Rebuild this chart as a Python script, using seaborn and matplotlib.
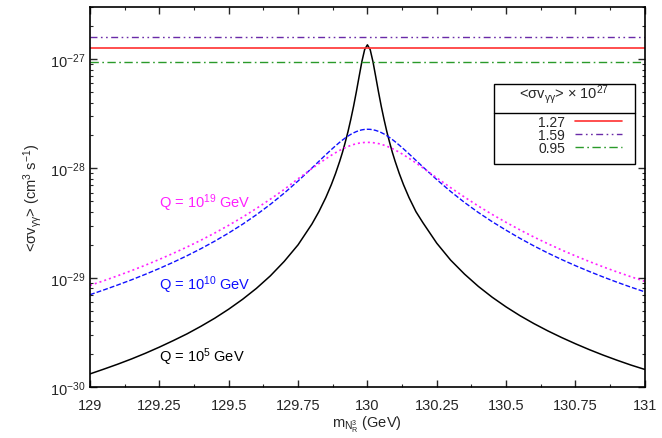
import numpy as np
import pandas as pd
import matplotlib
matplotlib.use("Agg")
import matplotlib.pyplot as plt
import matplotlib.ticker as mticker
from matplotlib.lines import Line2D
from matplotlib.patches import Rectangle
import seaborn as sns

# masse (GeV)
mass = [129.0, 129.05, 129.1, 129.15, 129.2, 129.25, 129.3, 129.35, 129.4, 129.45,
        129.5, 129.55, 129.6, 129.65, 129.7, 129.75, 129.8, 129.825, 129.85, 129.87,
        129.885, 129.9, 129.91, 129.92, 129.93, 129.94, 129.95, 129.96, 129.97, 129.98,
        129.99, 130.0,
        130.01, 130.02, 130.03, 130.04, 130.05, 130.06, 130.07, 130.08, 130.09, 130.1,
        130.115, 130.13, 130.15, 130.175, 130.2, 130.25, 130.3, 130.35, 130.4, 130.45,
        130.5, 130.55, 130.6, 130.65, 130.7, 130.75, 130.8, 130.85, 130.9, 130.95, 131.0]

# Q = 10^5 GeV
sigma_q5 = [1.32e-30, 1.46e-30, 1.62e-30, 1.81e-30, 2.04e-30, 2.32e-30, 2.66e-30, 3.07e-30, 3.60e-30, 4.27e-30,
            5.16e-30, 6.35e-30, 8.0e-30, 1.04e-29, 1.41e-29, 2.0e-29, 3.1e-29, 4.02e-29, 5.41e-29, 7.11e-29,
            8.96e-29, 1.16e-28, 1.40e-28, 1.73e-28, 2.17e-28, 2.80e-28, 3.69e-28, 5.0e-28, 6.9e-28, 9.47e-28,
            1.22e-27, 1.35e-27,
            1.22e-27, 9.47e-28, 6.9e-28, 5.0e-28, 3.69e-28, 2.80e-28, 2.17e-28, 1.73e-28, 1.40e-28, 1.16e-28,
            8.96e-29, 7.11e-29, 5.41e-29, 4.02e-29, 3.19e-29, 2.07e-29, 1.45e-29, 1.08e-29, 8.33e-30, 6.63e-30,
            5.41e-30, 4.50e-30, 3.81e-30, 3.27e-30, 2.84e-30, 2.49e-30, 2.20e-30, 1.96e-30, 1.76e-30, 1.59e-30, 1.45e-30]

# Q = 10^10 GeV
sigma_q10 = [7.0e-30, 7.74e-30, 8.59e-30, 9.58e-30, 1.076e-29, 1.216e-29, 1.385e-29, 1.591e-29, 1.845e-29, 2.163e-29,
             2.566e-29, 3.086e-29, 3.77e-29, 4.687e-29, 5.939e-29, 7.673e-29, 1.008e-28, 1.16e-28, 1.334e-28, 1.487e-28,
             1.609e-28, 1.733e-28, 1.816e-28, 1.897e-28, 1.975e-28, 2.048e-28, 2.113e-28, 2.171e-28, 2.217e-28, 2.252e-28,
             2.273e-28, 2.28e-28,
             2.276e-28, 2.257e-28, 2.225e-28, 2.181e-28, 2.126e-28, 2.063e-28, 1.992e-28, 1.915e-28, 1.836e-28, 1.754e-28,
             1.63e-28, 1.51e-28, 1.358e-28, 1.184e-28, 1.032e-28, 7.903e-29, 6.153e-29, 4.884e-29, 3.951e-29, 3.253e-29,
             2.72e-29, 2.293e-29, 1.956e-29, 1.686e-29, 1.468e-29, 1.289e-29, 1.141e-29, 1.016e-29, 9.1e-30, 8.2e-30, 7.43e-30]

# Q = 10^19 GeV
sigma_q19 = [8.51e-30, 9.4e-30, 1.043e-29, 1.163e-29, 1.304e-29, 1.472e-29, 1.672e-29, 1.912e-29, 2.206e-29, 2.568e-29,
             3.018e-29, 3.584e-29, 4.305e-29, 5.229e-29, 6.42e-29, 8.043e-29, 9.962e-29, 1.106e-28, 1.223e-28, 1.319e-28,
             1.391e-28, 1.461e-28, 1.505e-28, 1.548e-28, 1.587e-28, 1.622e-28, 1.654e-28, 1.681e-28, 1.702e-28, 1.717e-28,
             1.727e-28, 1.73e-28,
             1.728e-28, 1.719e-28, 1.706e-28, 1.686e-28, 1.661e-28, 1.63e-28, 1.596e-28, 1.558e-28, 1.516e-28, 1.473e-28,
             1.404e-28, 1.333e-28, 1.238e-28, 1.122e-28, 1.012e-28, 8.204e-29, 6.666e-29, 5.465e-29, 4.524e-29, 3.79e-29,
             3.21e-29, 2.738e-29, 2.358e-29, 2.049e-29, 1.795e-29, 1.584e-29, 1.407e-29, 1.257e-29, 1.13e-29, 1.021e-29, 9.27e-30]

# valori di riferimento <sigma v> x 10^27
ref_values = [1.27, 1.59, 0.95]
ref_labels = ["1.27", "1.59", "0.95"]

df = pd.DataFrame({"m": mass, "q5": sigma_q5, "q10": sigma_q10, "q19": sigma_q19})

sns.set_style("ticks")
plt.rcParams["font.family"] = ["Liberation Sans", "DejaVu Sans"]
plt.rcParams["mathtext.fontset"] = "custom"
plt.rcParams["mathtext.rm"] = "Liberation Sans"
plt.rcParams["mathtext.it"] = "Liberation Sans"
plt.rcParams["mathtext.bf"] = "Liberation Sans:bold"

fig = plt.figure(figsize=(6.62, 4.39), dpi=100)
ax = fig.add_axes([0.136, 0.116, 0.838, 0.866])
ax.set_yscale("log")

sns.lineplot(data=df, x="m", y="q5", ax=ax, color="black", lw=1.1, estimator=None, sort=False)
sns.lineplot(data=df, x="m", y="q10", ax=ax, color="#1010ff", lw=1.0, estimator=None, sort=False
             ).lines[-1].set_dashes([3.5, 1.5])
sns.lineplot(data=df, x="m", y="q19", ax=ax, color="#ff20ff", lw=1.2, estimator=None, sort=False
             ).lines[-1].set_dashes([1.2, 1.8])

ref_colors = ["#ff3030", "#6a2aa8", "#2a9a2a"]
ref_dashes = [None, [5, 2.5, 1.2, 2.5, 1.2, 2.5], [6, 2.5, 1.2, 2.5]]
handles = []
for v, lab, c, d in zip(ref_values, ref_labels, ref_colors, ref_dashes):
    ln = ax.axhline(v * 1e-27, color=c, lw=1.2 if d is None else 1.0, label=lab)
    if d is not None:
        ln.set_dashes(d)
    handles.append(ln)

ax.set_xlim(129, 131)
ax.set_ylim(1e-30, 3e-27)
ax.xaxis.set_major_locator(mticker.MultipleLocator(0.25))
ax.xaxis.set_minor_locator(mticker.MultipleLocator(0.125))
ax.xaxis.set_major_formatter(mticker.FuncFormatter(lambda x, p: f"{x:g}"))
ax.yaxis.set_major_locator(mticker.FixedLocator([1e-30, 1e-29, 1e-28, 1e-27]))
ax.yaxis.set_minor_locator(mticker.LogLocator(base=10, subs=np.arange(2, 10), numticks=20))
ax.yaxis.set_minor_formatter(mticker.NullFormatter())
ax.yaxis.set_major_formatter(mticker.FuncFormatter(
    lambda y, p: r"10$^{\mathregular{%d}}$" % int(round(np.log10(y)))))
ax.tick_params(which="both", direction="in", top=True, right=True, labelsize=10.5)
ax.tick_params(which="major", length=5, width=1)
ax.tick_params(which="minor", length=2.5, width=0.8)
ax.tick_params(axis="x", pad=8)
for s in ax.spines.values():
    s.set_linewidth(1.2)
    s.set_color("black")

ax.set_xlabel(r"m$_{\mathregular{N_R^3}}$ (GeV)", fontsize=10.5, labelpad=1)
ax.set_ylabel(r"<σv$_{\mathregular{γγ}}$> (cm$^{\mathregular{3}}$ s$^{\mathregular{-1}}$)", fontsize=10.5, labelpad=4)

ax.text(0.124, 0.487, r"Q = 10$^{\mathregular{19}}$ GeV", color="#ff20ff", fontsize=10.5,
        transform=ax.transAxes, va="center", ha="left")
ax.text(0.124, 0.271, r"Q = 10$^{\mathregular{10}}$ GeV", color="#1010ff", fontsize=10.5,
        transform=ax.transAxes, va="center", ha="left")
ax.text(0.124, 0.082, r"Q = 10$^{\mathregular{5}}$ GeV", color="black", fontsize=10.5,
        transform=ax.transAxes, va="center", ha="left")

# riquadro della legenda stile gnuplot
box = Rectangle((0.728, 0.587), 0.254, 0.210, transform=ax.transAxes, facecolor="white",
                edgecolor="black", lw=1.0, zorder=4)
ax.add_patch(box)
ax.add_line(Line2D([0.728, 0.982], [0.721, 0.721], transform=ax.transAxes, color="black",
                   lw=1.0, zorder=5))
ax.text(0.855, 0.771, r"<σv$_{\mathregular{γγ}}$> × 10$^{\mathregular{27}}$", fontsize=10.5,
        transform=ax.transAxes, ha="center", va="center", zorder=6)
leg = ax.legend(handles=handles, labels=ref_labels, loc="center right", bbox_to_anchor=(0.9586, 0.663),
                markerfirst=False, frameon=False, fontsize=10, handlelength=3.4,
                labelspacing=-0.08, borderpad=0, handletextpad=0.7, borderaxespad=0)
leg.set_zorder(6)

fig.savefig("out.png", dpi=100)
